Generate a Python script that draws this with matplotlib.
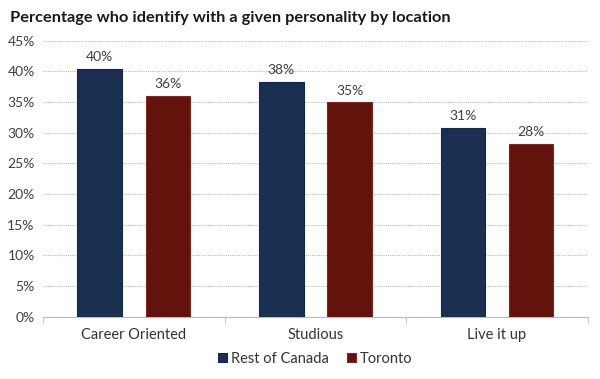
import numpy as np
import matplotlib.pyplot as plt
from matplotlib.ticker import FuncFormatter

categories = ['Career Oriented', 'Studious', 'Live it up']
rest_of_canada = [40.4, 38.3, 30.8]
toronto = [36.0, 34.95, 28.2]
labels_rest = ['40%', '38%', '31%']
labels_toronto = ['36%', '35%', '28%']

plt.rcParams['font.family'] = ['Lato', 'DejaVu Sans']

fig = plt.figure(figsize=(6, 3.79), dpi=100)
ax = fig.add_axes([0.0717, 0.1644, 0.908, 0.7282])

x = np.arange(len(categories))
w = 0.246
off = 0.188
blue = '#1b3050'
red = '#62130c'

b1 = ax.bar(x - off, rest_of_canada, w, color=blue, edgecolor='#14264a', linewidth=0.8,
            label='Rest of Canada', zorder=3)
b2 = ax.bar(x + off, toronto, w, color=red, edgecolor='#7a2a22', linewidth=0.8,
            label='Toronto', zorder=3)

for bars, labs in [(b1, labels_rest), (b2, labels_toronto)]:
    for bar, lab in zip(bars, labs):
        ax.text(bar.get_x() + bar.get_width() / 2, bar.get_height() + 0.9, lab,
                ha='center', va='bottom', fontsize=10, color='#404040')

ax.set_xlim(-0.5, 2.5)
ax.set_ylim(0, 45)
ax.set_yticks(np.arange(0, 46, 5))
ax.yaxis.set_major_formatter(FuncFormatter(lambda v, p: f'{v:.0f}%'))
ax.grid(axis='y', color='#bbbbbb', linestyle=(0, (1, 1)), linewidth=0.8, zorder=0)

ax.set_xticks(x)
ax.set_xticklabels(categories, fontsize=10.5, color='#333333')
ax.set_xticks([-0.5, 0.5, 1.5, 2.5], minor=True)
ax.tick_params(axis='x', which='major', length=0, pad=8)
ax.tick_params(axis='x', which='minor', length=4, color='#bbbbbb')
ax.tick_params(axis='y', length=0, labelsize=10, labelcolor='#404040', pad=6)

for s in ['top', 'right', 'left']:
    ax.spines[s].set_visible(False)
ax.spines['bottom'].set_color('#bbbbbb')
ax.spines['bottom'].set_linestyle((0, (1, 1)))

fig.text(0.0167, 0.9525, 'Percentage who identify with a given personality by location',
         fontsize=11.8, fontweight='bold', color='#1a1a1a', va='center')

ax.legend(loc='center', bbox_to_anchor=(0.5, -0.153), ncol=2, frameon=False,
          fontsize=10.5, handlelength=0.6, handleheight=0.6, handletextpad=0.3,
          columnspacing=1.2, labelcolor='#333333')

fig.savefig('out.png', dpi=100)
